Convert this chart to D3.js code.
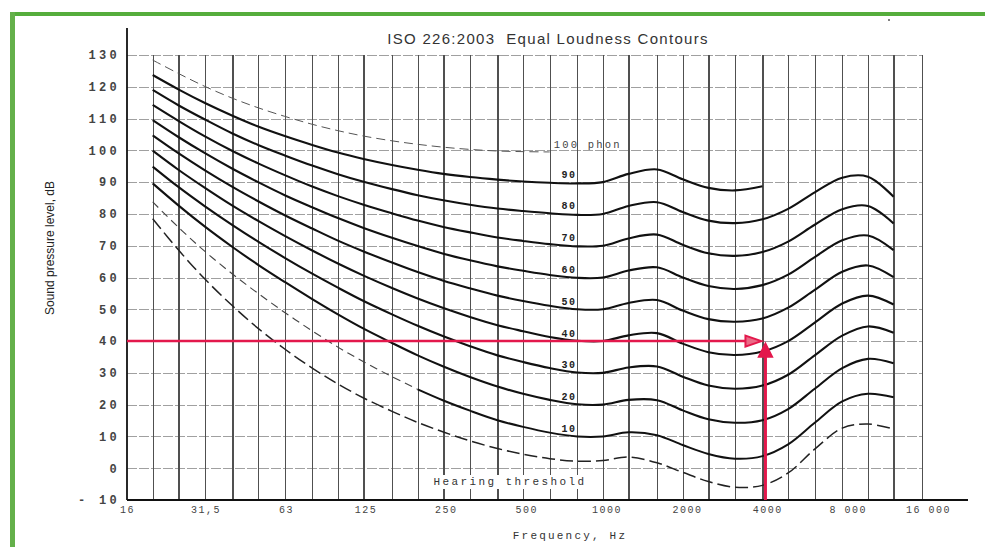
<!DOCTYPE html>
<html>
<head>
<meta charset="utf-8">
<script src="https://cdn.jsdelivr.net/npm/d3@7"></script>
<style>
  html, body { margin: 0; padding: 0; background: #fff; }
  svg { display: block; }
  .tick line { shape-rendering: crispEdges; }
</style>
</head>
<body>
<svg id="chart" width="985" height="547"></svg>
<script>
// ---------- DATA ----------
const freqs = [20,25,31.5,40,50,63,80,100,125,160,200,250,315,400,500,630,800,1000,1250,1600,2000,2500,3150,4000,5000,6300,8000,10000,12500];
const threshold = [78.5,68.7,59.5,51.1,44.0,37.5,31.5,26.5,22.1,17.9,14.4,11.4,8.6,6.2,4.4,3.0,2.2,2.4,3.5,1.7,-1.3,-4.2,-6.0,-5.4,-1.5,6.0,12.6,13.9,12.3];
const phon10 = [83.8,75.8,68.2,61.1,55.0,49.0,43.2,38.1,33.5,28.8,24.8,21.3,18.1,15.1,13.0,11.2,10.0,10.0,11.3,10.4,7.3,4.5,3.0,3.8,7.5,14.3,21.0,23.4,22.3];
const phon20 = [89.6,82.7,76.0,69.6,64.0,58.6,53.2,48.4,43.9,39.4,35.5,32.0,28.7,25.7,23.4,21.5,20.1,20.0,21.5,21.4,18.2,15.4,14.3,15.1,18.6,25.0,31.5,34.4,33.0];
const phon30 = [94.9,88.5,82.4,76.5,71.3,66.2,61.2,56.8,52.6,48.4,44.8,41.5,38.4,35.5,33.4,31.5,30.1,30.0,31.7,32.0,28.8,26.0,25.0,26.0,29.4,35.5,41.7,44.6,42.6];
const phon40 = [99.9,93.9,88.2,82.6,77.8,73.1,68.5,64.4,60.6,56.7,53.4,50.4,47.6,45.0,43.1,41.3,40.1,40.0,41.8,42.5,39.2,36.5,35.6,36.7,40.0,45.8,51.8,54.3,51.5];
const phon50 = [104.7,99.1,93.7,88.5,84.0,79.6,75.4,71.6,68.2,64.7,61.7,59.0,56.6,54.3,52.6,51.1,50.0,50.0,52.0,52.9,49.6,46.9,46.1,47.1,50.5,56.1,61.8,63.8,60.1];
const phon60 = [109.5,104.2,99.1,94.2,90.0,85.9,82.1,78.7,75.6,72.5,69.9,67.5,65.4,63.5,62.1,60.8,59.9,60.0,62.2,63.2,60.0,57.3,56.4,57.6,60.9,66.4,71.7,73.2,68.6];
const phon70 = [114.3,109.3,104.4,99.8,95.9,92.2,88.6,85.6,82.9,80.2,77.9,75.9,74.2,72.6,71.5,70.5,69.8,70.0,72.3,73.5,70.3,67.6,66.8,68.0,71.3,76.6,81.5,82.5,77.0];
const phon80 = [119.0,114.2,109.7,105.3,101.7,98.4,95.2,92.5,90.1,87.8,85.9,84.3,82.9,81.7,80.9,80.2,79.7,80.0,82.5,83.7,80.6,77.9,77.1,78.3,81.6,86.8,91.4,91.7,85.4];
const phon90 = [123.7,119.2,114.9,110.9,107.5,104.5,101.7,99.3,97.3,95.4,93.9,92.6,91.6,90.8,90.2,89.8,89.6,90.0,92.6,94.0,90.9,88.2,87.4,88.7];
const phon100 = [128.4,124.2,120.1,116.4,113.4,110.7,108.2,106.2,104.5,103.0,101.9,101.0,100.3,99.8,99.6,99.5];
const phon10DashedCount = 11; // first points (20..200 Hz) drawn dashed

const gridFreqs = [20,25,31.5,40,50,63,80,100,125,160,200,250,315,400,500,630,800,1000,1250,1600,2000,2500,3150,4000,5000,6300,8000,10000,12500,16000];
const yTicks = [130,120,110,100,90,80,70,60,50,40,30,20,10,0,-10];
const yTickLabels = ["130","120","110","100","90","80","70","60","50","40","30","20","10","0","- 10"];
const xTicks = [16,31.5,63,125,250,500,1000,2000,4000,8000,16000];
const xTickLabels = ["16","31,5","63","125","250","500","1000","2000","4000","8 000","16 000"];
const solidLevels = [20,30,40,50,60,70,80,90];
const solidSeries = [phon20,phon30,phon40,phon50,phon60,phon70,phon80,phon90];
const curveLabels = ["90","80","70","60","50","40","30","20","10"];
const curveLabelLevels = [90,80,70,60,50,40,30,20,10];
const refLevel = 40;
const refFreq = 4000;

const titleText = "ISO 226:2003  Equal Loudness Contours";
const xTitle = "Frequency, Hz";
const yTitle = "Sound pressure level, dB";

// ---------- SCALES ----------
const svg = d3.select("#chart");
const x = d3.scaleLog().domain([16, 16000]).range([127, 922]);
const y = d3.scaleLinear().domain([-10, 130]).range([500, 55]);

svg.append("rect").attr("width", 985).attr("height", 547).attr("fill", "#fff");

// green frame (top and left)
svg.append("rect").attr("x", 10).attr("y", 12).attr("width", 975).attr("height", 4).attr("fill", "#55ad3c");
svg.append("rect").attr("x", 10).attr("y", 12).attr("width", 5).attr("height", 535).attr("fill", "#64b04a");
svg.append("circle").attr("cx", 889).attr("cy", 20).attr("r", 1).attr("fill", "#555");

// ---------- GRID ----------
const hGrid = svg.append("g").attr("transform", `translate(${x(16)},0)`)
  .call(d3.axisLeft(y).tickValues(yTicks.filter(v => v > -10)).tickSize(-(x(16000) - x(16))).tickFormat(""));
hGrid.select(".domain").remove();
hGrid.selectAll(".tick line").attr("stroke", "#a0a0a0").attr("stroke-width", 1).attr("stroke-dasharray", "10,2");

const vGrid = svg.append("g").attr("transform", `translate(0,${y(-10)})`)
  .call(d3.axisBottom(x).tickValues(gridFreqs).tickSize(-(y(-10) - y(130))).tickFormat(""));
vGrid.select(".domain").remove();
vGrid.selectAll(".tick line").attr("stroke", "#505050").attr("stroke-width", 1.3);

// ---------- AXES ----------
svg.append("line").attr("x1", x(16)).attr("x2", x(16)).attr("y1", 28).attr("y2", y(-10))
  .attr("stroke", "#111").attr("stroke-width", 1.8);
svg.append("line").attr("x1", x(16)).attr("x2", 968).attr("y1", y(-10)).attr("y2", y(-10))
  .attr("stroke", "#111").attr("stroke-width", 2);

const yAxis = svg.append("g").attr("transform", `translate(${x(16)},0)`)
  .call(d3.axisLeft(y).tickValues(yTicks).tickSize(0).tickPadding(10).tickFormat((d, i) => yTickLabels[i]));
yAxis.select(".domain").remove();
yAxis.selectAll("text").attr("font-family", "Liberation Mono, DejaVu Sans Mono, monospace")
  .attr("font-size", 12).attr("font-weight", "bold").attr("fill", "#444").attr("letter-spacing", 3.3)
  .attr("dx", 3);

const xAxis = svg.append("g").attr("transform", `translate(0,${y(-10)})`)
  .call(d3.axisBottom(x).tickValues(xTicks).tickSize(0).tickPadding(6).tickFormat((d, i) => xTickLabels[i]));
xAxis.select(".domain").remove();
xAxis.selectAll("text").attr("font-family", "Liberation Mono, DejaVu Sans Mono, monospace")
  .attr("font-size", 10).attr("fill", "#444").attr("letter-spacing", 1.5)
  .attr("dx", (d, i) => i * 0.6);

// ---------- CURVES ----------
const line = d3.line().x(d => x(d[0])).y(d => y(d[1])).curve(d3.curveCatmullRom.alpha(0.5));
const pts = arr => arr.map((v, i) => [freqs[i], v]);

// 100 phon (thin dashed)
svg.append("path").attr("d", line(pts(phon100))).attr("fill", "none")
  .attr("stroke", "#555").attr("stroke-width", 1).attr("stroke-dasharray", "9,5");

// solid curves 20..90
solidSeries.forEach((s, k) => {
  svg.append("path").attr("d", line(pts(s))).attr("fill", "none")
    .attr("stroke", "#111").attr("stroke-width", 2.1).attr("data-level", solidLevels[k]);
});

// 10 phon: dashed at low frequencies, then solid
const p10 = pts(phon10);
svg.append("path").attr("d", line(p10.slice(0, phon10DashedCount))).attr("fill", "none")
  .attr("stroke", "#444").attr("stroke-width", 1.1).attr("stroke-dasharray", "8,5");
svg.append("path").attr("d", line(p10.slice(phon10DashedCount - 1))).attr("fill", "none")
  .attr("stroke", "#111").attr("stroke-width", 2);

// hearing threshold (dashed)
svg.append("path").attr("d", line(pts(threshold))).attr("fill", "none")
  .attr("stroke", "#222").attr("stroke-width", 1.5).attr("stroke-dasharray", "13,5");

// ---------- CURVE LABELS ----------
const lblFont = "Liberation Mono, DejaVu Sans Mono, monospace";
curveLabels.forEach((t, i) => {
  svg.append("text").attr("x", x(1000) - 34).attr("y", y(curveLabelLevels[i]) - 7)
    .attr("text-anchor", "middle").attr("dominant-baseline", "central")
    .attr("font-family", lblFont).attr("font-size", 10).attr("font-weight", "bold")
    .attr("letter-spacing", 1.5).attr("fill", "#222").text(t);
});
svg.append("text").attr("x", x(630) + 4).attr("y", y(100) - 5)
  .attr("dominant-baseline", "central").attr("font-family", lblFont).attr("font-size", 10.5)
  .attr("letter-spacing", 2.2).attr("fill", "#444").text("100 phon");

// hearing threshold label with white background
svg.append("rect").attr("x", 431).attr("y", 475).attr("width", 158).attr("height", 14).attr("fill", "#fff");
svg.append("text").attr("x", 510).attr("y", 482).attr("text-anchor", "middle")
  .attr("dominant-baseline", "central").attr("font-family", lblFont).attr("font-size", 11)
  .attr("letter-spacing", 2.4).attr("fill", "#333").text("Hearing threshold");

// ---------- RED ARROWS ----------
const red = "#e3184c";
const yr = y(refLevel), xr = x(refFreq);
svg.append("line").attr("x1", x(16)).attr("x2", xr - 15).attr("y1", yr).attr("y2", yr)
  .attr("stroke", red).attr("stroke-width", 2.6);
svg.append("path").attr("d", `M${xr - 1},${yr} L${xr - 17},${yr - 5.5} L${xr - 17},${yr + 5.5} Z`)
  .attr("fill", "#ea6a86").attr("stroke", red).attr("stroke-width", 2);
const xv = xr + 3;
svg.append("line").attr("x1", xv).attr("x2", xv).attr("y1", y(-10)).attr("y2", yr + 14)
  .attr("stroke", red).attr("stroke-width", 3);
svg.append("path").attr("d", `M${xv},${yr + 2} L${xv - 7},${yr + 16} L${xv + 7},${yr + 16} Z`)
  .attr("fill", red).attr("stroke", red).attr("stroke-width", 1.5);

// ---------- TITLES ----------
svg.append("text").attr("x", 548).attr("y", 38).attr("text-anchor", "middle")
  .attr("dominant-baseline", "central").attr("font-family", "Liberation Sans, Arial, sans-serif")
  .attr("font-size", 15).attr("letter-spacing", 1.3).attr("fill", "#333")
  .style("white-space", "pre").text(titleText);

svg.append("text").attr("x", 570).attr("y", 536).attr("text-anchor", "middle")
  .attr("dominant-baseline", "central").attr("font-family", lblFont)
  .attr("font-size", 11).attr("letter-spacing", 2.2).attr("fill", "#333").text(xTitle);

svg.append("text").attr("transform", "translate(50,248) rotate(-90)").attr("text-anchor", "middle")
  .attr("dominant-baseline", "central").attr("font-family", "Liberation Sans Narrow, Liberation Sans, sans-serif")
  .attr("font-size", 12).attr("fill", "#222").text(yTitle);
</script>
</body>
</html>
